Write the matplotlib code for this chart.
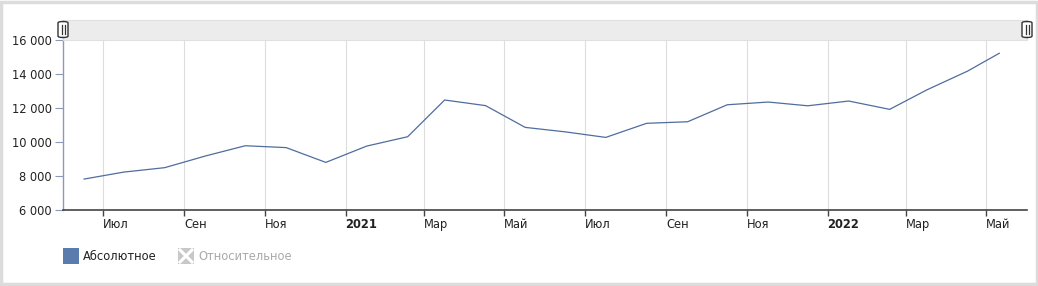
import datetime as dt

import matplotlib
matplotlib.use("Agg")
import matplotlib.pyplot as plt
import matplotlib.transforms as mtransforms
from matplotlib.patches import Rectangle, FancyBboxPatch

# monthly values (point dated in the middle of each month, last one is partial)
dates = [
    dt.date(2020, 6, 17), dt.date(2020, 7, 17), dt.date(2020, 8, 17),
    dt.date(2020, 9, 17), dt.date(2020, 10, 17), dt.date(2020, 11, 17),
    dt.date(2020, 12, 17), dt.date(2021, 1, 17), dt.date(2021, 2, 17),
    dt.date(2021, 3, 17), dt.date(2021, 4, 17), dt.date(2021, 5, 17),
    dt.date(2021, 6, 17), dt.date(2021, 7, 17), dt.date(2021, 8, 17),
    dt.date(2021, 9, 17), dt.date(2021, 10, 17), dt.date(2021, 11, 17),
    dt.date(2021, 12, 17), dt.date(2022, 1, 17), dt.date(2022, 2, 17),
    dt.date(2022, 3, 17), dt.date(2022, 4, 17), dt.date(2022, 5, 11),
]
values = [
    7820, 8230, 8490, 9180, 9780, 9670, 8800, 9760, 10310, 12470, 12140, 10860,
    10590, 10270, 11100, 11190, 12190, 12350, 12130, 12410, 11920, 13060, 14170, 15220,
]

tick_dates = [
    dt.date(2020, 7, 1), dt.date(2020, 9, 1), dt.date(2020, 11, 1),
    dt.date(2021, 1, 1), dt.date(2021, 3, 1), dt.date(2021, 5, 1),
    dt.date(2021, 7, 1), dt.date(2021, 9, 1), dt.date(2021, 11, 1),
    dt.date(2022, 1, 1), dt.date(2022, 3, 1), dt.date(2022, 5, 1),
]
tick_labels = ["Июл", "Сен", "Ноя", "2021", "Мар", "Май",
               "Июл", "Сен", "Ноя", "2022", "Мар", "Май"]
y_ticks = [6000, 8000, 10000, 12000, 14000, 16000]

legend_labels = ["Абсолютное", "Относительное"]

plt.rcParams["font.family"] = ["DejaVu Sans"]

W, H = 1038, 286
fig = plt.figure(figsize=(W / 100, H / 100), dpi=100)


def fx(px):
    return px / W


def fy(py):
    return 1 - py / H


# outer frame
fig.patches.append(Rectangle((fx(1), fy(284)), fx(1036), 282 / H,
                             transform=fig.transFigure, fill=False,
                             edgecolor="#dcdcdc", linewidth=2.5))

ax = fig.add_axes([fx(63), fy(210), fx(1027 - 63), 170 / H])

# scroller bar on top
fig.patches.append(Rectangle((fx(63), fy(40)), fx(1027 - 63), 20 / H,
                             transform=fig.transFigure, facecolor="#ececec",
                             edgecolor="#e0e0e0", linewidth=0.8))
for hx in (63, 1027):
    fig.patches.append(FancyBboxPatch((fx(hx - 5), fy(37.5)), fx(10), 16 / H,
                                      boxstyle="round,pad=0,rounding_size=0.005",
                                      transform=fig.transFigure, facecolor="white",
                                      edgecolor="#333333", linewidth=1.0))
    for dx in (-1.5, 1.5):
        fig.lines.append(plt.Line2D([fx(hx + dx), fx(hx + dx)], [fy(25), fy(34)],
                                    transform=fig.transFigure, color="#333333",
                                    linewidth=0.9))

ax.plot(dates, values, color="#4f6d9d", linewidth=0.9)

ax.set_xlim(dt.date(2020, 6, 1), dt.date(2022, 6, 1))
ax.set_ylim(6000, 16000)

ax.set_yticks(y_ticks)
ax.set_yticklabels([f"{v:,}".replace(",", " ") for v in y_ticks],
                   fontsize=8.3, color="#222222")

ax.set_xticks(tick_dates)
ax.set_xticklabels(tick_labels, fontsize=8.3, color="#222222", ha="left")
for lbl in ax.get_xticklabels():
    if lbl.get_text().isdigit():
        lbl.set_fontweight("bold")
    lbl.set_transform(lbl.get_transform() +
                      mtransforms.ScaledTranslation(2.5 / 100, 0, fig.dpi_scale_trans))

ax.tick_params(axis="x", length=4, width=1, color="#444444", pad=1.5, direction="out")
ax.tick_params(axis="y", length=6, width=0.8, color="#8a9bb8", pad=2)
ax.grid(axis="x", color="#dddddd", linewidth=0.8)
ax.set_axisbelow(True)

for side in ("top", "right"):
    ax.spines[side].set_visible(False)
ax.spines["left"].set_color("#8a9bb8")
ax.spines["left"].set_linewidth(1)
ax.spines["bottom"].set_color("#444444")
ax.spines["bottom"].set_linewidth(1.2)

# legend
fig.patches.append(Rectangle((fx(63), fy(264)), fx(16), 16 / H,
                             transform=fig.transFigure, facecolor="#5a7bad",
                             edgecolor="none"))
fig.text(fx(83), fy(256.5), legend_labels[0], ha="left", va="center",
         fontsize=8.3, color="#222222")
fig.patches.append(Rectangle((fx(178), fy(264)), fx(16), 16 / H,
                             transform=fig.transFigure, facecolor="#c8c8c8",
                             edgecolor="none"))
fig.lines.append(plt.Line2D([fx(180), fx(192)], [fy(250), fy(262)],
                            transform=fig.transFigure, color="white", linewidth=2.2))
fig.lines.append(plt.Line2D([fx(180), fx(192)], [fy(262), fy(250)],
                            transform=fig.transFigure, color="white", linewidth=2.2))
fig.text(fx(198), fy(256.5), legend_labels[1], ha="left", va="center",
         fontsize=8.3, color="#aaaaaa")

fig.savefig("out.png", dpi=100)
